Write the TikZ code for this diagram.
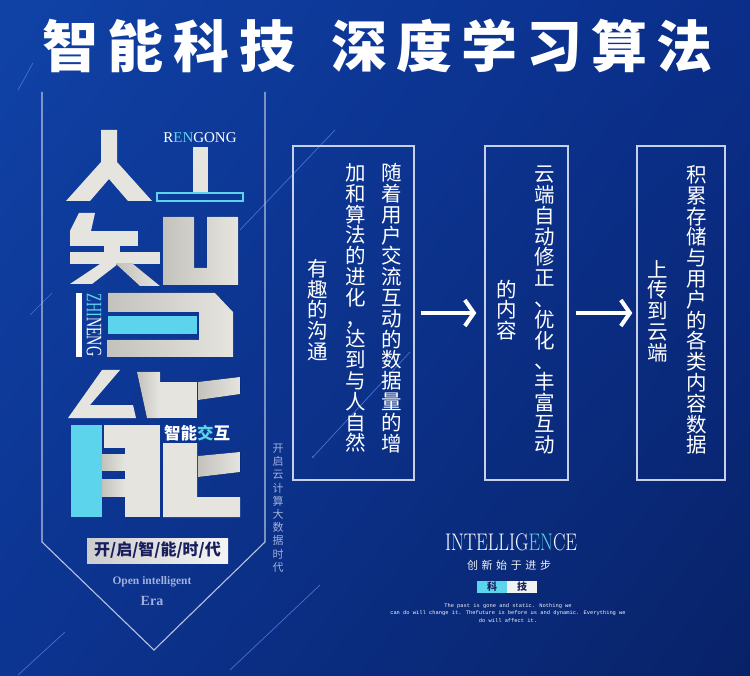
\documentclass[tikz,border=0pt]{standalone}
\usepackage{fontspec}
\newfontfamily\cjk{Noto Sans CJK SC}
\newfontfamily\serif{Liberation Serif}
\newfontfamily\mono{Liberation Mono}
\usetikzlibrary{arrows.meta,shadings}

\definecolor{bgtl}{RGB}{16,66,166}
\definecolor{bgtr}{RGB}{10,46,138}
\definecolor{bgbl}{RGB}{12,52,145}
\definecolor{bgbr}{RGB}{8,34,104}
\definecolor{glyphgray}{RGB}{230,228,222}
\definecolor{glyphdark}{RGB}{196,194,188}
\definecolor{cyanx}{RGB}{92,212,236}
\definecolor{decoblue}{RGB}{72,112,210}
\definecolor{framegray}{RGB}{185,195,225}
\definecolor{boxgray}{RGB}{200,208,232}
\definecolor{navytext}{RGB}{25,30,92}
\definecolor{softblue}{RGB}{160,176,220}
\definecolor{lblgray}{RGB}{205,205,205}

% senkrechter Text: ein Zeichen pro Zeile
\makeatletter
\newcommand\vstk[2]{\vbox{\baselineskip=#1\lineskiplimit=-30pt\lineskip=0pt\vstk@#2\@nil}}
\def\vstk@#1{\ifx#1\@nil\else\hbox to 1em{\hss#1\hss}\expandafter\vstk@\fi}
\makeatother

\begin{document}
\begin{tikzpicture}[x=1pt,y=-1pt,
    glyph/.style={fill=glyphgray},
    glyphshade/.style={left color=glyphdark,right color=glyphgray},
    deco/.style={draw=decoblue,line width=0.7pt},
    frame/.style={draw=framegray,line width=1.1pt},
    colbox/.style={draw=boxgray,line width=1.4pt,minimum width=#1,minimum height=334pt,inner sep=0pt},
    vcol/.style={text=white,inner sep=0pt,font=\cjk\fontsize{20.5}{20.5}\selectfont},
    flow/.style={draw=white,line width=4pt,-{Straight Barb[length=9pt,width=26pt]}},
    tagbox/.style={minimum width=30pt,minimum height=12pt,inner sep=0pt,text=navytext,font=\cjk\bfseries\fontsize{10}{10}\selectfont}]

    %Hintergrund
    \shade[upper left=bgtl,upper right=bgtr,lower left=bgbl,lower right=bgbr] (0,0) rectangle (750,676);
    \useasboundingbox (0,0) rectangle (750,676);
    \draw[deco] (18,90) -- (33,63);
    \draw[deco] (30,315) -- (52,293);
    \draw[deco] (240,230) -- (335,130);
    \draw[deco] (313,457) -- (410,352);
    \fill[decoblue] (313,457) circle (1.2pt);
    \draw[deco] (230,670) -- (320,585);
    \draw[deco] (18,675) -- (65,632);

    %Titel
    \node[text=white,font=\cjk\bfseries\fontsize{56}{56}\selectfont] (t1) at (169,46) {智\hspace{10pt}能\hspace{10pt}科\hspace{10pt}技};
    \node[text=white,font=\cjk\bfseries\fontsize{56}{56}\selectfont] (t2) at (522,46) {深\hspace{9pt}度\hspace{9pt}学\hspace{9pt}习\hspace{9pt}算\hspace{9pt}法};

    %Rahmen links
    \draw[frame] (42,92) -- (42,542) -- (154,650) -- (265,542) -- (265,92);

    %人
    \fill[glyph] (101,130) -- (117,130) -- (117,162) -- (152,201) -- (128,201) -- (109,179) -- (90,201) -- (66,201) -- (101,162) -- cycle;
    %工
    \fill[glyph] (193,147) rectangle (208,192);
    \draw[cyanx,line width=1.2pt] (157,193) rectangle (243,201);
    \node[font=\serif\fontsize{15}{15}\selectfont,text=white] (reng) at (200,138) {R\textcolor{cyanx}{EN}GONG};

    %智
    \fill[glyph] (79,213) -- (95,213) -- (91,231) -- (70,231) -- cycle;
    \fill[glyph] (70,231) rectangle (138,246);
    \fill[glyph] (104,246) rectangle (120,252);
    \fill[glyph] (70,252) rectangle (160,264);
    \fill[glyph] (100,264) -- (118,264) -- (92,284) -- (70,284) -- cycle;
    \fill[glyphshade] (116,264) -- (133,264) -- (160,286) -- (140,286) -- cycle;
    \fill[glyphshade] (163,217) -- (194,217) -- (194,268) -- (207,268) -- (207,217) -- (238,217) -- (238,285) -- (163,285) -- cycle;
    \fill[glyphshade] (108,293) -- (215,293) -- (233,312) -- (233,357) -- (107,357) -- (107,340) -- (199,340) -- (199,312) -- (108,312) -- cycle;
    \fill[cyanx] (108,316) rectangle (197,334);
    \fill[white] (76,293) rectangle (82,357);
    \node[rotate=-90,text=white,inner sep=0pt] (zhin) at (94,325) {\scalebox{0.64}[1]{\serif\fontsize{22}{22}\selectfont\textcolor{cyanx}{ZHI}NENG}};

    %能
    \fill[glyph] (102,370) -- (120,370) -- (90,405) -- (133,405) -- (136,418) -- (68,418) -- cycle;
    \fill[glyphshade] (137,372) -- (160,372) -- (160,418) -- (147,418) -- cycle;
    \fill[glyph] (160,382) rectangle (197,418);
    \fill[glyphshade] (198,382) -- (240,377) -- (240,394) -- (198,400) -- cycle;
    \fill[cyanx] (71,425) rectangle (102,517);
    \fill[glyph] (125,425) rectangle (160,517);
    \fill[glyph] (104,425) rectangle (125,448);
    \fill[glyphshade] (102,454) rectangle (125,470);
    \fill[glyphshade] (102,479) rectangle (125,496);
    \fill[glyph] (163,443) -- (197,443) -- (197,497) -- (240,497) -- (240,517) -- (163,517) -- cycle;
    \fill[glyphshade] (198,456) -- (240,452) -- (240,472) -- (198,477) -- cycle;
    \node[font=\cjk\bfseries\fontsize{16.5}{16.5}\selectfont,text=white,inner sep=0pt] (jiaohu) at (197,433) {智能\textcolor{cyanx}{交}互};

    %Schild unten
    \node[left color=lblgray,right color=white!92!gray,minimum width=141pt,minimum height=25pt,inner sep=0pt,
          text=navytext,font=\cjk\bfseries\fontsize{16}{16}\selectfont] (lbl) at (157.5,550.5) {开/启/智/能/时/代};
    \node[font=\serif\bfseries\fontsize{11.5}{11.5}\selectfont,text=softblue] (open) at (152,582) {Open intelligent};
    \node[font=\serif\bfseries\fontsize{14}{14}\selectfont,text=softblue] (era) at (152,601) {Era};
    \node[font=\cjk\fontsize{11}{11}\selectfont,text=softblue,inner sep=0pt] (side) at (278,508) {\vstk{13.2pt}{开启云计算大数据时代}};

    %Kaesten
    \node[colbox=121pt] (box1) at (353.5,313) {};
    \node[colbox=83pt] (box2) at (526.5,313) {};
    \node[colbox=88pt] (box3) at (681,313) {};
    \node[vcol] (b1a) at (392,308) {\vstk{20.8pt}{随着用户交流互动的数据量的增}};
    \node[vcol] (b1b) at (356,308) {\vstk{20.8pt}{加和算法的进化，达到与人自然}};
    \node[vcol] (b1c) at (318,310) {\vstk{20.8pt}{有趣的沟通}};
    \node[vcol] (b2a) at (545,310) {\vstk{20.8pt}{云端自动修正、优化、丰富互动}};
    \node[vcol] (b2b) at (507,310) {\vstk{20.8pt}{的内容}};
    \node[vcol] (b3a) at (697,310) {\vstk{20.8pt}{积累存储与用户的各类内容数据}};
    \node[vcol] (b3b) at (658,311) {\vstk{20.8pt}{上传到云端}};
    \draw[flow,shorten <=6pt,shorten >=8pt] (box1) -- (box2);
    \draw[flow,shorten <=7pt,shorten >=4pt] (box2) -- (box3);

    %unten rechts
    \node[text=white,font=\fontsize{24}{24}\selectfont,inner sep=0pt] (intel) at (511,542) {\scalebox{0.77}[1]{INTELLIG\textcolor{cyanx}{EN}CE}};
    \node[text=white!85!softblue,font=\cjk\fontsize{11}{11}\selectfont,inner sep=0pt] (slogan) at (509,565) {创\hspace{3.6pt}新\hspace{3.6pt}始\hspace{3.6pt}于\hspace{3.6pt}进\hspace{3.6pt}步};
    \node[tagbox,fill=cyanx] (ke) at (492,587) {科};
    \node[tagbox,fill=white!90!gray] (ji) at (522,587) {技};
    \node[text=white!88!softblue,font=\mono\fontsize{5.4}{7.5}\selectfont,align=center,inner sep=0pt] (motto) at (508,613)
        {The past is gone and static. Nothing we\\can do will change it. Thefuture is before us and dynamic. Everything we\\do will affect it.};
\end{tikzpicture}
\end{document}
